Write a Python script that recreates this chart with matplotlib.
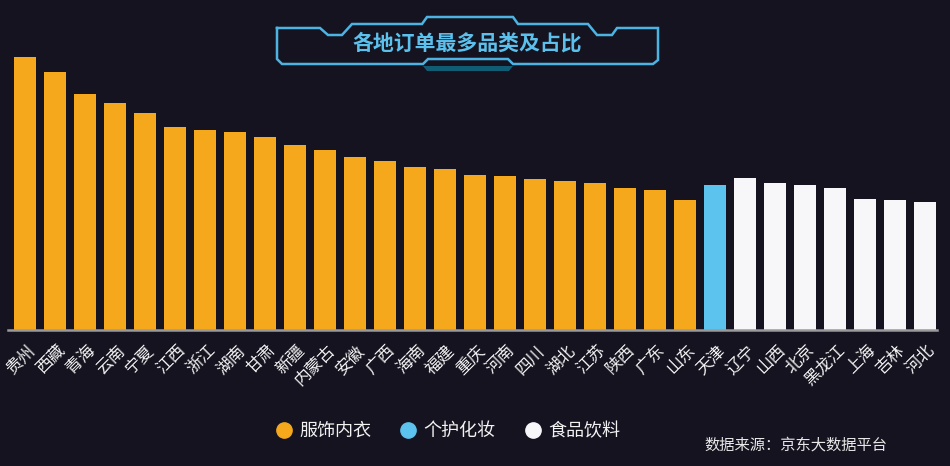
import numpy as np
import matplotlib.pyplot as plt
from matplotlib.lines import Line2D
from matplotlib.patches import Polygon

plt.rcParams['font.family'] = ['Noto Sans CJK SC', 'DejaVu Sans']

# ============================================================
# Data (share of orders, %)
# ============================================================

provinces = ["贵州", "西藏", "青海", "云南", "宁夏", "江西", "浙江", "湖南", "甘肃", "新疆",
             "内蒙古", "安徽", "广西", "海南", "福建", "重庆", "河南", "四川", "湖北", "江苏",
             "陕西", "广东", "山东", "天津", "辽宁", "山西", "北京", "黑龙江", "上海", "吉林", "河北"]

shares = [54.7, 51.6, 47.2, 45.5, 43.5, 40.7, 40.0, 39.7, 38.6, 37.0,
          36.0, 34.6, 33.8, 32.6, 32.2, 31.1, 30.8, 30.2, 29.8, 29.4,
          28.4, 28.0, 26.0, 29.0, 30.4, 29.4, 29.0, 28.4, 26.2, 26.0, 25.6]

categories = ["服饰内衣"] * 23 + ["个护化妆"] + ["食品饮料"] * 7

legend_names = ["服饰内衣", "个护化妆", "食品饮料"]
colors = {"服饰内衣": "#f5a81c", "个护化妆": "#5bc3ee", "食品饮料": "#f7f7fa"}

BG = "#14131f"

# ============================================================
# Figure
# ============================================================

fig = plt.figure(figsize=(9.5, 4.66), dpi=100, facecolor=BG)

W, H = 950, 466
ax = fig.add_axes([8 / W, (H - 330) / H, 929 / W, 300 / H])
ax.set_facecolor("none")

x = np.arange(len(provinces))
ax.bar(x, shares, width=0.73, color=[colors[c] for c in categories], zorder=2)

ax.set_xlim(-0.567, 30.4)
ax.set_ylim(0, 60)
ax.set_yticks([])
ax.set_xticks([])
for s in ["top", "right", "left"]:
    ax.spines[s].set_visible(False)
ax.spines["bottom"].set_color("#9a9a9a")
ax.spines["bottom"].set_linewidth(1.8)

# rotated province labels
trans = ax.get_xaxis_transform()
for i, name in enumerate(provinces):
    ax.text(i + 0.25, -0.06, name, transform=trans, rotation=45,
            rotation_mode="anchor", ha="right", va="center",
            fontsize=12, color="#f2f2f2")

# ------------------------------------------------------------
# Legend and source
# ------------------------------------------------------------

handles = [Line2D([], [], marker="o", linestyle="none", markersize=11,
                  markerfacecolor=colors[n], markeredgecolor=colors[n])
           for n in legend_names]
fig.legend(handles, legend_names, loc="center", bbox_to_anchor=(443 / W, 35 / H),
           ncol=3, frameon=False, fontsize=13, labelcolor="#f2f2f2",
           handletextpad=-0.15, columnspacing=1.05)

fig.text(704 / W, (H - 445) / H, "数据来源：京东大数据平台", fontsize=11,
         color="#e8e8e8", va="center", ha="left")

# ------------------------------------------------------------
# Title frame
# ------------------------------------------------------------

deco = fig.add_axes([0, 0, 1, 1])
deco.set_xlim(0, W)
deco.set_ylim(H, 0)
deco.axis("off")
deco.patch.set_alpha(0)

frame = [(277, 28), (320, 28), (328, 35), (342, 35), (352, 24), (422, 24), (427, 17),
         (513, 17), (518, 24), (588, 24), (597, 35), (612, 35), (617, 28), (658, 28),
         (658, 60), (653, 64), (513, 64), (508, 59), (428, 59), (423, 64), (282, 64),
         (277, 59), (277, 28)]
fx, fy = zip(*frame)
deco.plot(fx, fy, color="#4db3e2", linewidth=1.8, solid_joinstyle="miter")

deco.add_patch(Polygon([(423, 66), (513, 66), (509, 71), (427, 71)], closed=True,
                       facecolor="#0f5c74", edgecolor="none"))

deco.text(467, 43, "各地订单最多品类及占比", ha="center", va="center",
          fontsize=15, fontweight="bold", color="#5cc0ec")

fig.savefig("out.png", dpi=100, facecolor=BG)
